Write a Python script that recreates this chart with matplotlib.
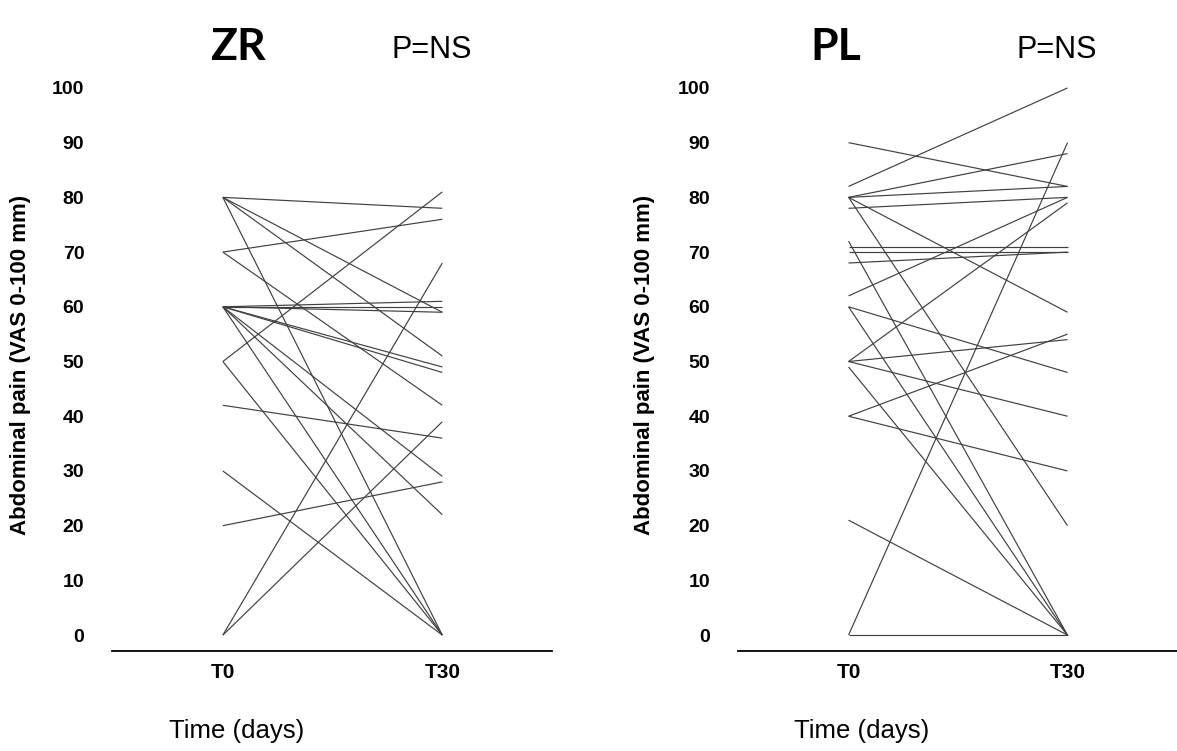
import matplotlib
matplotlib.use("Agg")
import matplotlib.pyplot as plt

# ZR group: abdominal pain (VAS) at T0 and T30, one pair per patient
zr_t0 = [80, 80, 80, 80, 70, 70, 60, 60, 60, 60, 60, 60, 60, 60, 50, 50, 42, 30, 20, 0, 0]
zr_t30 = [78, 59, 51, 0, 76, 42, 61, 60, 59, 49, 48, 0, 22, 29, 81, 0, 36, 0, 28, 68, 39]

# PL group
pl_t0 = [82, 90, 80, 80, 78, 80, 80, 72, 71, 70, 68, 62, 60, 60, 50, 50, 50, 49, 40, 40, 21, 0, 0]
pl_t30 = [100, 82, 88, 82, 80, 59, 20, 0, 71, 70, 70, 80, 48, 0, 79, 54, 40, 0, 55, 30, 0, 90, 0]

yticks = list(range(0, 101, 10))
xticklabels = ["T0", "T30"]

plt.rcParams['font.family'] = ['Liberation Sans', 'DejaVu Sans']

fig = plt.figure(figsize=(11.77, 7.51), dpi=100)
ax_zr = fig.add_axes([0.0952, 0.1332, 0.3738, 0.757])
ax_pl = fig.add_axes([0.627, 0.1332, 0.373, 0.757])


def draw_panel(ax, t0, t30, title, title_x, label_x, ylab_x):
    for a, b in zip(t0, t30):
        ax.plot([0, 1], [a, b], color="#404040", lw=0.85, solid_capstyle="butt")
    ax.set_xlim(-0.505, 1.5)
    ax.set_ylim(-2.9, 101)
    for s in ("top", "right", "left"):
        ax.spines[s].set_visible(False)
    ax.spines["bottom"].set_linewidth(1.3)
    ax.set_yticks(yticks)
    ax.set_yticklabels([str(v) for v in yticks], fontweight="bold", fontsize=14)
    ax.tick_params(axis="y", length=0, pad=20)
    ax.set_xticks([0, 1])
    ax.set_xticklabels(xticklabels, fontweight="bold", fontsize=15)
    ax.tick_params(axis="x", length=0, pad=9)
    ax.text(title_x, 107.5, title, fontsize=32, fontweight="bold",
            family=["Lato", "DejaVu Sans"], ha="center", va="center", clip_on=False)
    ax.text(0.95, 107, "P=NS", fontsize=22, ha="center", va="center", clip_on=False)
    ax.text(label_x, -17.5, "Time (days)", fontsize=18.5, ha="center", va="center", clip_on=False)
    ax.text(ylab_x, 49.4, "Abdominal pain (VAS 0-100 mm)", fontsize=16, fontweight="bold",
            rotation=90, ha="center", va="center", clip_on=False)


draw_panel(ax_zr, zr_t0, zr_t30, "ZR", 0.07, 0.064, -0.923)
draw_panel(ax_pl, pl_t0, pl_t30, "PL", -0.06, 0.06, -0.93)

fig.savefig("out.png", dpi=100)
